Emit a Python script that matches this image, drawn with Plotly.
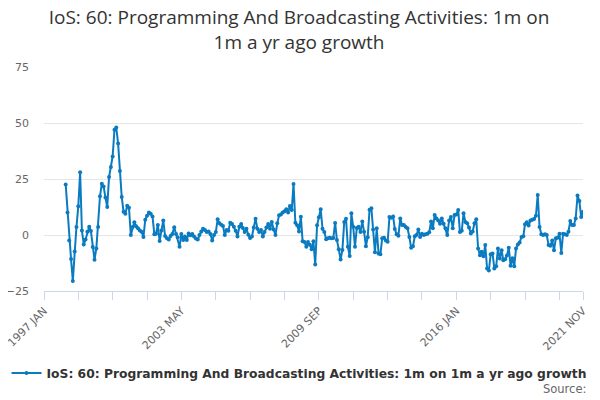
import pandas as pd
import plotly.graph_objects as go

# monthly values, 1998 JAN .. 2021 NOV
y1998 = [22.6, 10.1, -2.4, -10.7, -20.5, -7.4, 3.6, 12.8, 28, 2, -4.2, -2]
y1999 = [1.5, 3.7, 1.8, -5.4, -11, -6, 3.6, 17.3, 22.9, 21.7, 16.7, 12.5]
y2000 = [25.9, 30.4, 35.1, 47, 48, 40.8, 28.6, 17, 10.4, 9.5, 13.1, 12.2]
y2001 = [0, 3.6, 5.7, 3.9, 3, 2, 1.5, -0.9, 6.8, 8.6, 10.1, 9.5]
y2002 = [8.3, 0.3, 0.6, 4.5, -2.7, 2, 6.5, -0.5, -1.5, -2, -0.5, 0.5]
y2003 = [3.5, 0.5, -1, -5.2, 0.4, -2.2, -0.7, -2.2, 0.7, -0.1, 0.4, -0.7]
y2004 = [-1.6, -2, 0, 1.6, 2.8, 2.2, 1.3, 1.6, 0.4, -2.5, 0, 1.3]
y2005 = [7, 5.2, 4.6, 4, 0, 2.2, 1.9, 5.5, 4.9, 3.7, 1.9, -0.7]
y2006 = [3.7, 4.9, 3.1, 1.3, 2.8, 0.1, -1.3, -0.7, 3.4, 7.3, 2.8, 1.3]
y2007 = [2.2, -0.7, 1.3, 3.4, 4.9, 2.8, 5.8, 2.5, 0, 5.2, 8.8, 9.1]
y2008 = [10, 10.6, 11.5, 10, 13, 11.2, 22.8, 5.5, 4.3, 1.6, 8.2, -2.8]
y2009 = [-3.1, -5.2, -3.1, -4.3, -6.4, -2.8, -13.2, 4.3, 7.9, 11.5, 2.8, 1.3]
y2010 = [-1.9, -1.5, -1.2, -1.5, -1.3, 5.4, -2.2, -6.4, -10.9, -6.7, 5.8, 7.3]
y2011 = [-5.2, -9.4, 9.7, 3.7, -5.2, 3.1, 3.7, 1.3, 6, 1.5, -5, -1]
y2012 = [11.3, 11.9, 2.4, -7.7, 3, -8.3, -8.6, -1.5, -1.2, -2.4, -3, 8]
y2013 = [7.7, 8.3, 2.7, 0.3, -0.3, 7.4, 4.5, 4.5, 3.6, 3, -0.9, -5.7]
y2014 = [-5, -0.6, 0, 2.4, -0.9, 0.6, 0, 0.3, 0.6, 1.2, 6, 3]
y2015 = [8.9, 7.4, 6.5, 5, 7.4, 5, 3, 0, 6.5, 8, 3, 8.9]
y2016 = [9.2, 11.2, 1.3, 1.9, 9.7, 5.8, 5.2, 3.4, 0.7, 1.6, 5.2, 7]
y2017 = [-6, -9, -7.5, -9.5, -4.5, -14.9, -15.8, -8.6, -8.3, -14.9, -14, -6]
y2018 = [-10.5, -6.8, -11.3, -10.8, -9.2, -5.7, -13.7, -10.4, -14, -6, -4.2, -3.3]
y2019 = [-0.9, -0.6, 4.8, 5.7, 4.2, 6.5, 6.8, 7.1, 8.6, 17.9, 3.6, 0.3]
y2020 = [0, 0.3, 0, -4.5, -4.8, -2.4, -6.8, -1.5, -1.2, 0.6, -8, 0.6]
y2021 = [0.3, 0, 1.5, 6.2, 4.5, 4.5, 7.4, 17.6, 15.2, 8, 10.4]

values = (y1998 + y1999 + y2000 + y2001 + y2002 + y2003 + y2004 + y2005 + y2006
          + y2007 + y2008 + y2009 + y2010 + y2011 + y2012 + y2013 + y2014
          + y2015 + y2016 + y2017 + y2018 + y2019 + y2020 + y2021)
months = pd.date_range("1998-01-01", periods=len(values), freq="MS")

tick_dates = list(pd.date_range("1997-01-01", "2021-10-01", freq="19MS")) + [pd.Timestamp("2021-11-01")]
tick_labels = {"1997-01": "1997 JAN", "2003-05": "2003 MAY", "2009-09": "2009 SEP",
               "2016-01": "2016 JAN", "2021-11": "2021 NOV"}
tick_text = [tick_labels.get(d.strftime("%Y-%m"), "") for d in tick_dates]

name = "IoS: 60: Programming And Broadcasting Activities: 1m on 1m a yr ago growth"
blue = "#0B7BC1"

fig = go.Figure()
fig.add_trace(go.Scatter(x=months, y=values, mode="lines+markers", name=name,
                         line=dict(color=blue, width=2),
                         marker=dict(color=blue, size=4)))

# the page body adds 8px, so the figure is 592x392
fig.update_layout(
    width=592, height=392,
    paper_bgcolor="white", plot_bgcolor="white",
    margin=dict(l=36, r=17, t=59, b=109),
    title=dict(text="IoS: 60: Programming And Broadcasting Activities: 1m on<br>1m a yr ago growth",
               x=0.4916, xanchor="center", y=0.958, yanchor="top",
               font=dict(family="Open Sans", size=19, color="#333333")),
    font=dict(family="DejaVu Sans", size=11, color="#666666"),
    showlegend=True,
    legend=dict(orientation="h", x=0.4916, xanchor="center", xref="container",
                y=0.069, yanchor="middle", yref="container", itemwidth=30,
                font=dict(family="DejaVu Sans", size=12.3, color="#333333", weight="bold")),
    annotations=[dict(text="Source:", xref="paper", yref="paper", x=1.0093, y=-0.4375,
                      xanchor="right", yanchor="middle", showarrow=False,
                      font=dict(family="DejaVu Sans", size=11.5, color="#666666"))],
)
fig.update_xaxes(range=[pd.Timestamp("1997-01-01"), pd.Timestamp("2021-11-01")],
                 tickvals=tick_dates, ticktext=tick_text, tickangle=-45,
                 ticks="outside", ticklen=8, tickcolor="#ccd6eb",
                 showline=True, linecolor="#ccd6eb", linewidth=1,
                 showgrid=False, zeroline=False, automargin=False,
                 ticklabeloverflow="allow")
fig.update_yaxes(range=[-25, 75], tickvals=[-25, 0, 25, 50, 75],
                 showgrid=True, gridcolor="#e6e6e6", zeroline=False,
                 showline=False, ticks="", ticklabelstandoff=14, automargin=False)

fig.write_html("out.html")
